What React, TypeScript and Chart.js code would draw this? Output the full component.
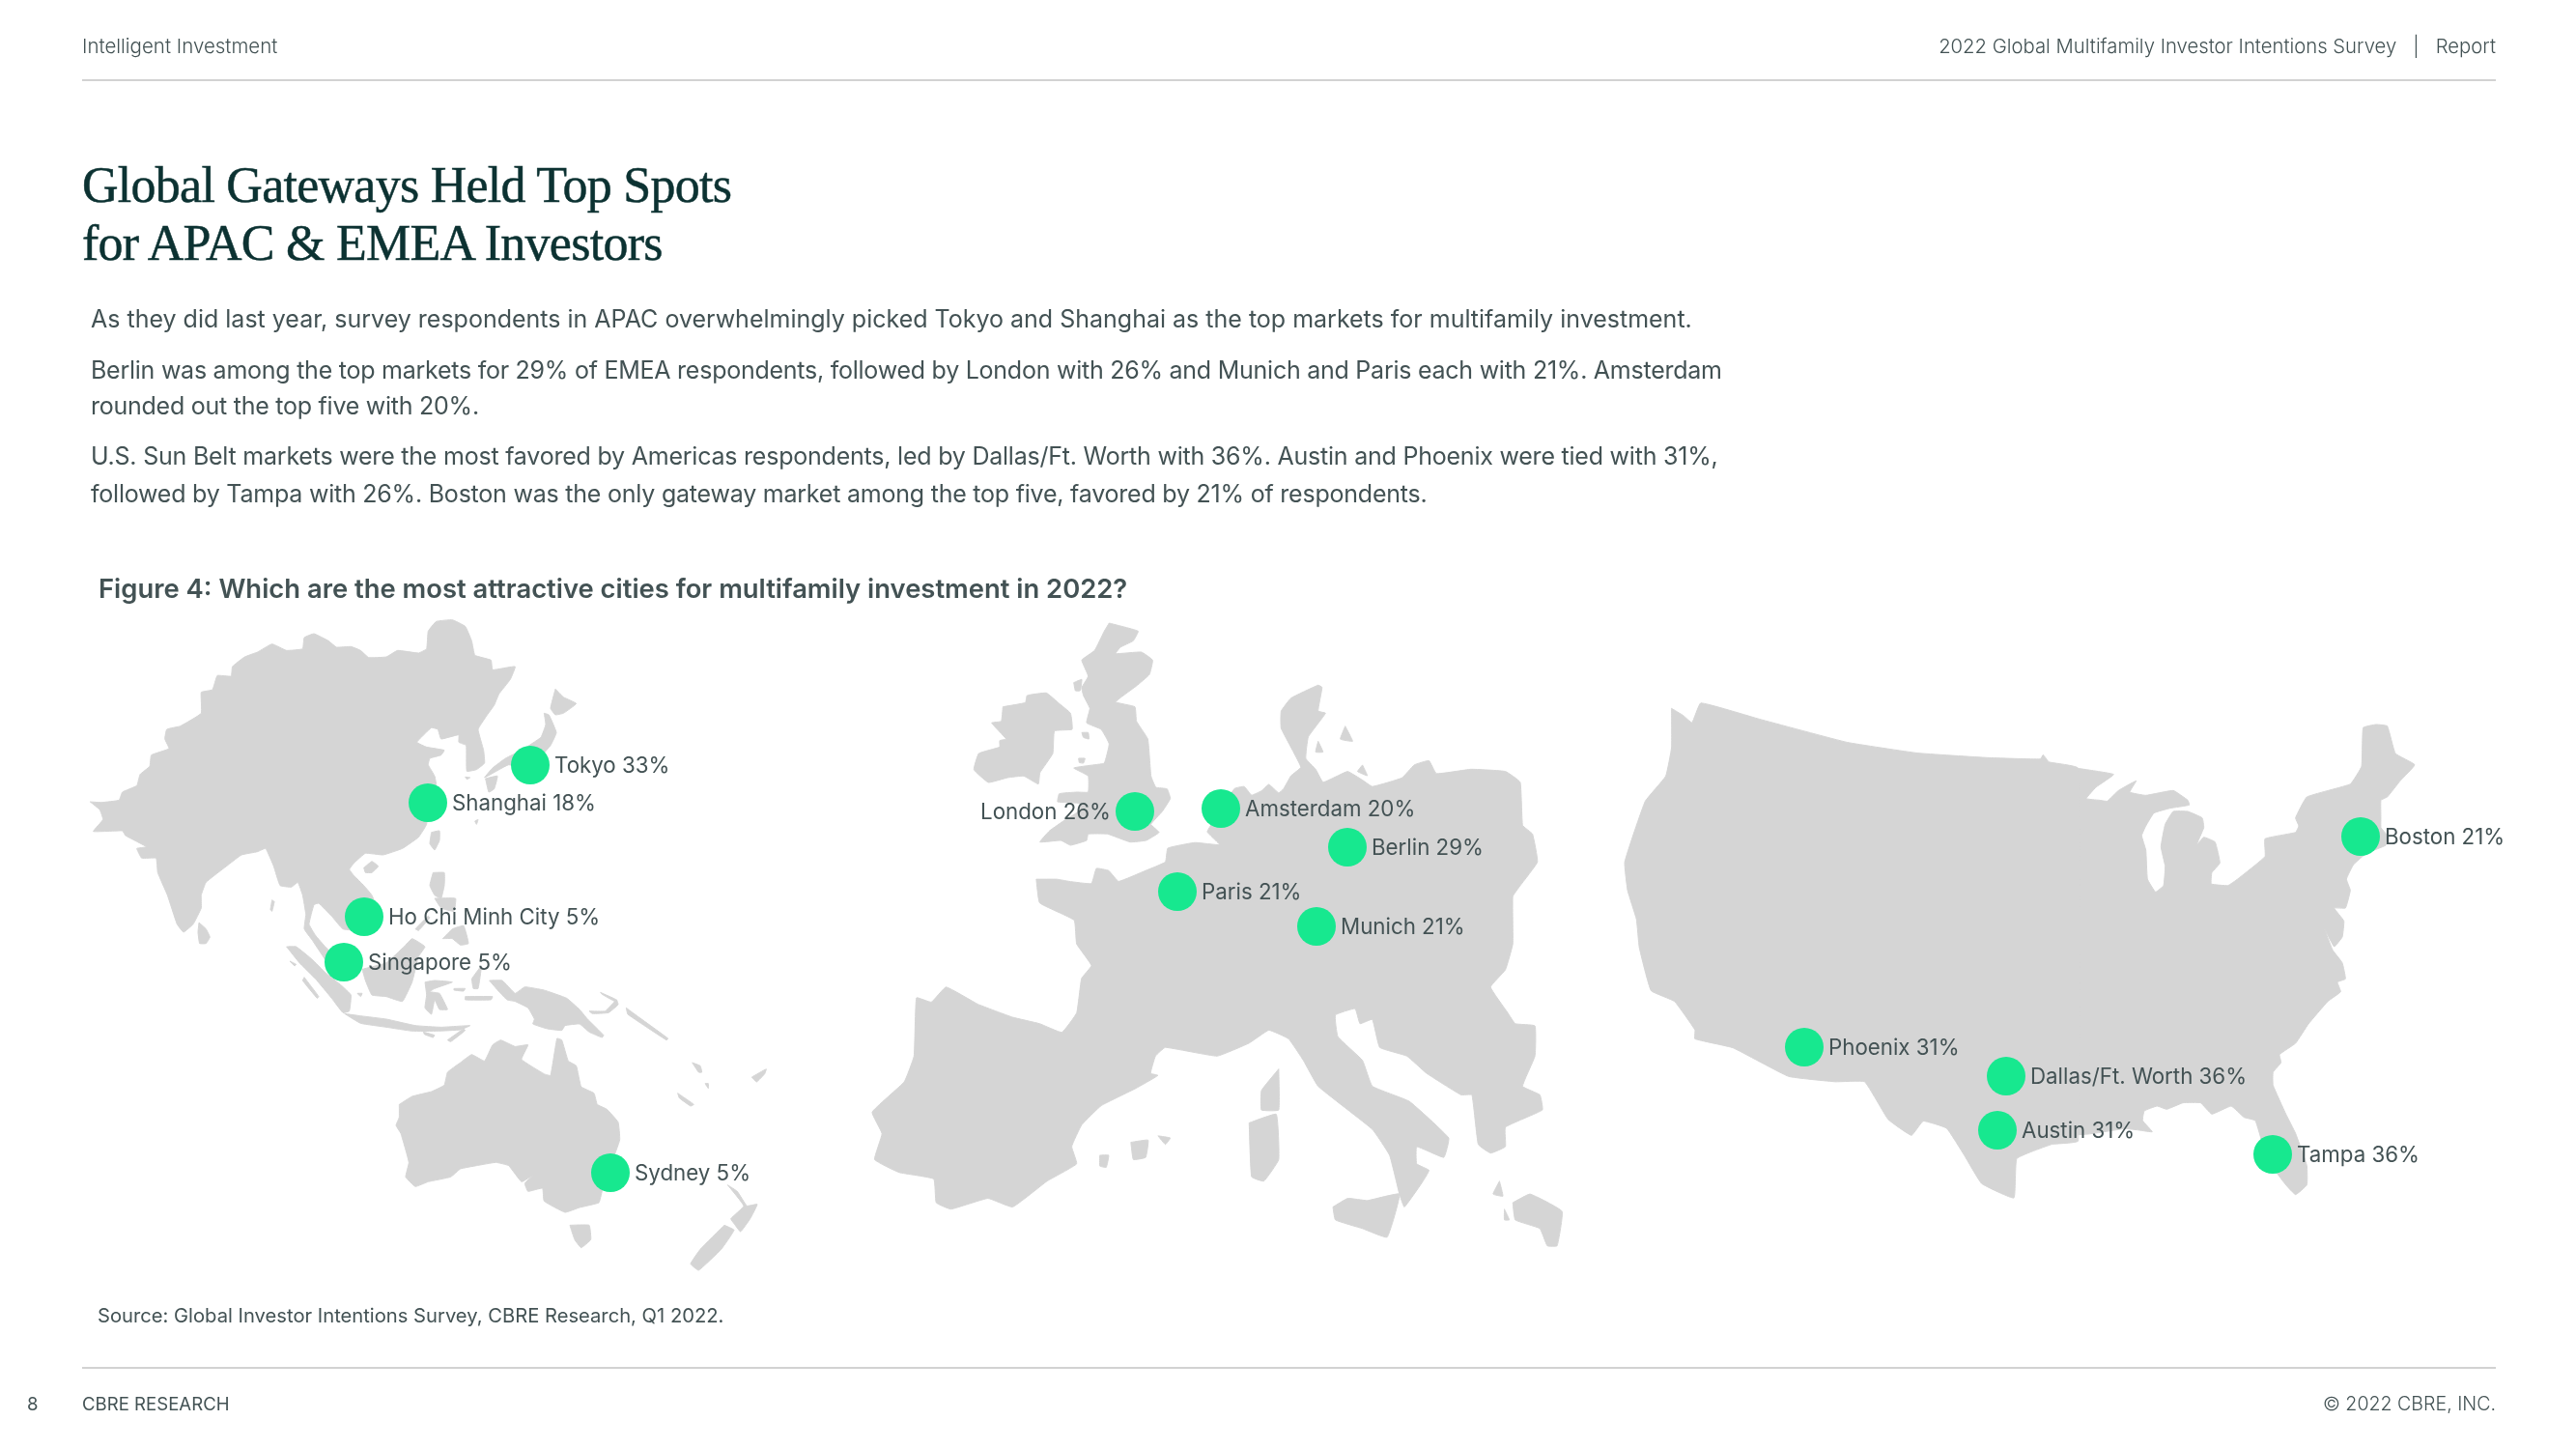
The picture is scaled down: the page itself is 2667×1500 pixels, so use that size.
import { useEffect, useRef } from 'react'
import Chart from 'chart.js/auto'

// Cities (values in %, positions in page pixels)
const cityNames = ['Tokyo', 'Shanghai', 'Ho Chi Minh City', 'Singapore', 'Sydney', 'London', 'Amsterdam', 'Berlin', 'Paris', 'Munich', 'Boston', 'Phoenix', 'Dallas/Ft. Worth', 'Austin', 'Tampa']
const cityValues = [33, 18, 5, 5, 5, 26, 20, 29, 21, 21, 21, 31, 36, 31, 36]
const cityX = [549, 443, 377, 356, 632, 1175, 1264, 1395, 1219, 1363, 2444, 1868, 2077, 2068, 2353]
const cityY = [792, 831, 949, 996, 1214, 840, 837, 877, 923, 959, 866, 1084, 1114, 1170, 1195]
const labelsOnLeft = ['London']

// Land outlines, flat x,y lists in each map's own units
const asiaLand = [
  [40,570,75,572,130,565,140,540,185,520,195,485,225,460,230,425,285,405,272,375,278,345,320,335,385,295,385,230,420,222,435,178,478,180,482,150,520,120,560,105,605,80,650,100,700,95,705,60,735,48,780,70,805,90,850,88,880,100,905,122,960,120,995,100,1060,108,1085,95,1090,40,1115,10,1165,5,1205,25,1225,70,1235,115,1285,130,1290,160,1360,150,1345,190,1310,235,1295,270,1270,305,1245,345,1262,410,1265,450,1240,470,1210,475,1208,395,1185,385,1185,362,1130,375,1120,345,1100,340,1055,385,1085,400,1140,410,1130,425,1095,435,1090,455,1110,490,1115,520,1090,570,1085,640,1060,680,1010,715,950,735,895,730,860,760,845,780,860,800,890,830,915,860,930,900,920,950,880,970,825,965,790,925,750,885,735,890,720,950,740,985,770,1020,790,1040,830,1090,800,1100,770,1060,730,1000,705,965,710,920,700,860,685,820,665,835,630,830,610,770,585,715,560,725,510,735,470,765,400,820,385,860,385,900,360,950,330,975,310,950,280,860,250,790,245,745,200,745,185,715,215,710,150,675,140,660,50,662,80,625,70,595],
  [890,775,915,755,935,770,915,790,895,790],
  [1100,665,1125,660,1125,690,1110,720,1095,700],
  [378,945,400,965,412,990,400,1010,380,1010,375,975],
  [605,875,612,880,605,910,600,905],
  [1485,220,1510,245,1550,265,1510,295,1485,300,1470,280],
  [1450,295,1465,300,1488,355,1470,395,1400,470,1340,455,1265,495,1290,465,1330,435,1380,410,1440,370,1455,330],
  [1268,498,1305,490,1295,530,1278,540],
  [1205,493,1220,495,1210,500],
  [1235,630,1245,625,1240,640],
  [650,1020,680,1020,730,1060,770,1100,820,1140,850,1170,845,1220,825,1225,790,1180,740,1120,690,1070],
  [660,1065,680,1075,675,1080],
  [705,1115,750,1175,745,1180,700,1125],
  [870,1165,885,1165,880,1175],
  [830,1228,880,1235,960,1245,1050,1265,1130,1270,1220,1265,1190,1278,1120,1282,1040,1282,960,1270,880,1258],
  [1075,1285,1110,1295,1105,1302,1078,1292],
  [1150,1310,1200,1275,1205,1280,1160,1315],
  [885,1090,960,1070,1015,1020,1040,995,1080,1020,1060,1050,1050,1090,1040,1130,1010,1190,960,1175,915,1170,895,1125],
  [1080,1130,1110,1125,1165,1130,1110,1150,1095,1160,1125,1165,1150,1215,1125,1215,1110,1185,1100,1230,1080,1210,1085,1170],
  [1225,1120,1255,1080,1245,1150,1230,1150],
  [1205,1175,1290,1175,1285,1185,1205,1185],
  [1170,1150,1205,1150,1200,1158,1170,1155],
  [1105,790,1140,790,1140,830,1130,870,1110,860,1095,830],
  [1110,870,1175,870,1170,910,1130,900],
  [1050,965,1090,925,1095,930,1060,970],
  [1135,995,1165,965,1200,955,1215,1010,1190,1015,1165,995],
]
const pacificLand = [
  [680,225,720,225,760,265,790,245,850,255,920,280,960,315,985,345,1035,395,1030,402,990,385,960,360,915,365,905,380,860,375,815,360,820,345,800,310,760,290,735,285,710,260],
  [990,320,1040,320,1075,285,1080,300,1050,325,1000,328],
  [1025,262,1075,285,1070,290,1030,268],
  [1105,310,1125,325,1235,405,1230,410,1110,330],
  [1310,480,1335,490,1340,510,1330,510],
  [1350,545,1360,545,1360,560],
  [1265,575,1315,610,1305,615,1270,590],
  [1495,525,1540,500,1535,515,1510,540],
  [400,610,440,585,500,570,540,550,550,510,590,480,625,455,665,475,690,425,715,410,760,430,800,425,780,470,850,515,870,520,890,405,905,410,925,475,950,490,965,555,1005,575,1015,610,1045,625,1080,665,1085,720,1060,790,1030,880,1020,915,960,930,915,945,850,910,845,870,800,880,790,855,815,830,780,850,740,800,700,790,640,800,590,810,560,835,490,850,450,865,420,835,430,790,405,700,390,675,400,650],
  [930,985,990,985,995,1030,965,1055,945,1030],
  [1420,860,1450,880,1480,925,1512,920,1490,965,1460,1005,1440,980,1430,965,1470,925],
  [1410,985,1440,1000,1400,1060,1330,1125,1305,1105,1335,1060],
]
const britainLand = [
  [115,275,185,262,190,240,250,232,290,265,325,295,330,345,275,350,270,420,230,480,225,515,180,490,130,495,70,510,25,470,40,420,105,400,105,380,125,375,80,325,110,320],
  [445,15,535,40,520,70,480,90,465,110,545,105,580,130,570,175,530,210,465,260,525,275,530,320,565,375,575,490,590,525,625,530,635,560,610,600,575,640,600,665,560,690,510,695,440,670,380,670,375,690,325,705,295,690,230,695,260,660,310,625,350,600,355,575,285,570,290,545,345,540,380,540,380,490,335,465,400,455,430,450,445,390,420,345,375,325,385,280,365,240,360,215,380,180,360,130,400,100,430,40],
  [335,200,360,190,355,225,340,225],
  [360,355,380,355,382,375,365,370],
  [350,435,370,435,365,450,352,448],
]
const europeLand = [
  [378,650,420,650,445,655,490,660,500,625,525,630,545,655,600,630,640,610,645,578,700,565,750,570,725,540,735,520,780,440,800,435,815,455,835,445,850,430,870,450,880,440,895,410,915,390,875,300,875,260,895,230,950,200,958,205,950,260,965,265,930,320,925,370,945,395,960,425,990,410,1010,400,1040,420,1060,435,1120,415,1145,385,1175,375,1190,405,1260,395,1330,400,1360,425,1365,525,1385,545,1395,610,1360,665,1345,690,1345,800,1330,860,1300,900,1335,960,1350,985,1390,990,1390,1060,1365,1130,1400,1150,1405,1185,1330,1225,1330,1270,1300,1285,1275,1265,1262,1150,1240,1150,1170,1100,1130,1060,1075,1040,1060,975,1035,985,1025,950,985,965,990,1015,1040,1070,1060,1130,1135,1165,1215,1250,1205,1295,1150,1270,1150,1310,1175,1325,1160,1355,1125,1410,1115,1380,1095,1290,1060,1230,950,1130,920,1070,890,1020,850,1000,810,1030,745,1060,640,1040,620,1060,610,1100,625,1105,580,1135,510,1175,470,1220,450,1270,460,1310,400,1350,330,1410,280,1390,205,1415,175,1400,170,1345,100,1330,50,1300,65,1240,45,1190,110,1120,130,1060,135,925,165,935,195,900,260,940,330,970,385,985,430,1005,460,960,470,880,490,850,460,800,455,745,385,705],
  [1005,295,1020,330,995,325],
  [950,330,960,355,945,355],
  [1040,385,1050,410,1030,400],
  [870,1090,870,1185,835,1185,835,1140],
  [810,1215,865,1195,870,1300,840,1350,815,1340],
  [980,1410,1010,1390,1050,1395,1115,1380,1090,1480,1040,1460,985,1440],
  [570,1260,605,1255,600,1295,575,1300],
  [625,1245,650,1250,640,1265],
  [507,1290,525,1290,520,1318,507,1315],
  [1345,1400,1380,1380,1445,1420,1435,1500,1415,1500,1400,1460,1350,1440],
  [1318,1350,1325,1385,1305,1380],
  [1328,1415,1338,1440,1328,1440],
]
const usWestLand = [
  [100,90,120,110,135,130,150,75,250,120,400,185,520,215,640,228,730,232,735,220,745,240,795,258,795,1300,750,1310,690,1350,685,1460,630,1420,600,1340,570,1265,530,1245,510,1285,470,1240,430,1135,380,1135,300,1120,205,1040,140,1015,140,990,105,910,65,880,45,760,40,680,25,600,20,520,55,350,90,280,100,200],
]
const usEastLand = [
  [-5,165,30,170,115,185,60,225,30,260,70,265,95,268,130,235,185,205,165,240,215,250,300,235,345,265,350,280,290,290,240,305,215,345,202,375,215,420,220,510,245,550,270,530,275,470,262,410,275,340,300,300,345,300,390,320,395,350,372,405,395,380,430,395,445,460,420,490,418,525,470,530,500,510,585,440,585,385,680,365,690,345,680,320,715,255,850,215,885,160,890,40,930,30,965,35,990,120,1050,155,1005,205,965,255,945,265,945,320,945,350,965,375,960,405,900,430,860,465,838,510,850,545,835,600,800,600,830,640,825,690,800,720,770,665,795,730,825,770,835,820,810,830,820,860,780,890,720,960,680,1020,630,1055,635,1080,610,1110,610,1150,650,1240,680,1300,715,1400,715,1460,680,1490,650,1460,620,1420,580,1340,555,1260,520,1250,480,1215,420,1240,385,1205,330,1205,280,1225,250,1215,210,1230,205,1260,235,1295,195,1290,150,1285,-5,1300],
]

const toPage = (flat: number[], x0: number, y0: number, sx: number, sy: number) => {
  const pts = []
  for (let i = 0; i < flat.length; i += 2) pts.push({ x: x0 + flat[i] / sx, y: y0 + flat[i + 1] / sy })
  pts.push(pts[0])
  return pts
}

const landShapes = [
  ...asiaLand.map((s) => toPage(s, 80, 640, 3, 3)),
  ...pacificLand.map((s) => toPage(s, 280, 940, 3, 3)),
  ...britainLand.map((s) => toPage(s, 1000, 640, 3, 3)),
  ...europeLand.map((s) => toPage(s, 880, 620, 1.96, 2.24)),
  ...usWestLand.map((s) => toPage(s, 1670, 700, 1.6505, 2.7034)),
  ...usEastLand.map((s) => toPage(s, 2150, 740, 3, 3)),
]

const bodyLines = [
  { text: 'As they did last year, survey respondents in APAC overwhelmingly picked Tokyo and Shanghai as the top markets for multifamily investment.', y: 330, spacing: 0 },
  { text: 'Berlin was among the top markets for 29% of EMEA respondents, followed by London with 26% and Munich and Paris each with 21%. Amsterdam', y: 383, spacing: -0.25 },
  { text: 'rounded out the top five with 20%.', y: 420, spacing: -0.25 },
  { text: 'U.S. Sun Belt markets were the most favored by Americas respondents, led by Dallas/Ft. Worth with 36%. Austin and Phoenix were tied with 31%,', y: 472, spacing: -0.22 },
  { text: 'followed by Tampa with 26%. Boston was the only gateway market among the top five, favored by 21% of respondents.', y: 511, spacing: -0.22 },
]

const TEXT = '#435254'
const SANS = 'Inter, sans-serif'
const SERIF = "'Liberation Serif', serif"

const cityLabels = {
  id: 'cityLabels',
  afterDatasetsDraw(chart: Chart) {
    const { ctx } = chart
    const meta = chart.getDatasetMeta(0)
    ctx.save()
    ctx.font = `400 22.3px ${SANS}`
    ctx.fillStyle = TEXT
    ctx.textBaseline = 'middle'
    meta.data.forEach((pt, i) => {
      const left = labelsOnLeft.includes(cityNames[i])
      ctx.textAlign = left ? 'right' : 'left'
      ctx.fillText(`${cityNames[i]} ${cityValues[i]}%`, pt.x + (left ? -25 : 25), pt.y + 1)
    })
    ctx.restore()
  },
}

function Text({ x, y, right, size, weight = 400, color = TEXT, font = SANS, spacing = 0, stroke, children }: any) {
  const pos = right !== undefined ? { right: 2667 - right } : { left: x }
  return (
    <div
      style={{
        position: 'absolute',
        ...pos,
        top: y,
        transform: 'translateY(-50%)',
        whiteSpace: 'nowrap',
        fontFamily: font,
        fontSize: size,
        fontWeight: weight,
        color,
        letterSpacing: spacing,
        WebkitTextStroke: stroke,
      }}
    >
      {children}
    </div>
  )
}

export default function App() {
  const canvasRef = useRef<HTMLCanvasElement | null>(null)

  useEffect(() => {
    const ctx = canvasRef.current?.getContext('2d')
    if (!ctx) return
    const chart = new Chart(ctx, {
      type: 'scatter',
      data: {
        datasets: [
          {
            label: 'Cities',
            data: cityX.map((x, i) => ({ x, y: cityY[i] })),
            backgroundColor: '#17E88F',
            pointRadius: 20,
            pointBorderWidth: 0,
            order: 0,
          },
          ...landShapes.map((shape, i) => ({
            label: `land ${i}`,
            data: shape,
            showLine: true,
            fill: 'shape',
            backgroundColor: '#D5D5D5',
            borderColor: '#D5D5D5',
            borderWidth: 1,
            pointRadius: 0,
            tension: 0.1,
            order: 1,
          })),
        ],
      },
      options: {
        animation: false,
        responsive: false,
        devicePixelRatio: 1,
        layout: { padding: 0, autoPadding: false },
        plugins: { legend: { display: false }, tooltip: { enabled: false } },
        scales: {
          x: { type: 'linear', display: false, min: 0, max: 2667 },
          y: { type: 'linear', display: false, min: 0, max: 1500, reverse: true },
        },
      },
      plugins: [cityLabels],
    } as any)
    return () => chart.destroy()
  }, [])

  return (
    <div style={{ position: 'absolute', left: 0, top: 0, width: 2667, height: 1500, background: '#fff', overflow: 'hidden' }}>
      <canvas ref={canvasRef} width={2667} height={1500} style={{ position: 'absolute', left: 0, top: 0 }} />
      <div style={{ position: 'absolute', left: 85, width: 2499, top: 82, height: 2, background: '#D2D2D2' }} />
      <div style={{ position: 'absolute', left: 85, width: 2499, top: 1415, height: 2, background: '#D2D2D2' }} />
      <Text x={85} y={47} size={20.5} weight={300}>Intelligent Investment</Text>
      <Text right={2584} y={47} size={20.3} weight={300}>
        2022 Global Multifamily Investor Intentions Survey &nbsp; | &nbsp; Report
      </Text>
      <Text x={85} y={191} size={52} color="#0C3232" font={SERIF} spacing={-0.74} stroke="0.5px #0C3232">Global Gateways Held Top Spots</Text>
      <Text x={85} y={251} size={52} color="#0C3232" font={SERIF} spacing={-0.74} stroke="0.5px #0C3232">for APAC &amp; EMEA Investors</Text>
      {bodyLines.map((l) => (
        <Text key={l.y} x={94} y={l.y} size={25} spacing={l.spacing}>{l.text}</Text>
      ))}
      <Text x={102} y={609} size={27.4} weight={600}>Figure 4: Which are the most attractive cities for multifamily investment in 2022?</Text>
      <Text x={101} y={1361} size={20.2}>Source: Global Investor Intentions Survey, CBRE Research, Q1 2022.</Text>
      <Text x={28} y={1453} size={18.6}>8</Text>
      <Text x={85} y={1453} size={18.6}>CBRE RESEARCH</Text>
      <Text right={2584} y={1453} size={19.6} weight={300}>© 2022 CBRE, INC.</Text>
    </div>
  )
}
